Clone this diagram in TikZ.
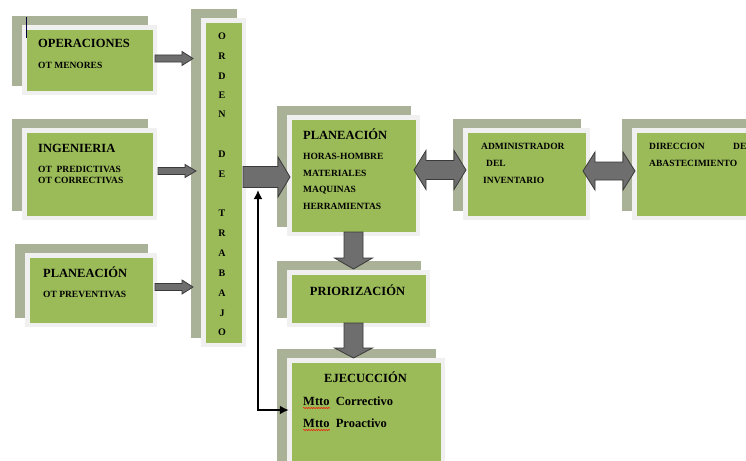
\documentclass[tikz,border=0pt]{standalone}
\usepackage{fontspec}
\setmainfont{Liberation Serif}
\usetikzlibrary{fit,arrows.meta,decorations.pathmorphing}
\definecolor{gr}{HTML}{9BBB59}
\definecolor{sh}{HTML}{A9B296}
\definecolor{fr}{HTML}{F0F0F0}
\definecolor{arf}{HTML}{6E6E6E}
\definecolor{ard}{HTML}{3A3A3A}
\tikzset{
  gbox/.style={fill=gr, draw=none, inner sep=0pt},
  blockarrow/.style={fill=arf, draw=ard, line width=0.8pt, line join=miter},
  hd/.style={font=\bfseries\fontsize{12.5}{14}\selectfont, inner sep=0pt, anchor=base west},
  sm/.style={font=\bfseries\fontsize{9.5}{10}\selectfont, inner sep=0pt, anchor=base west},
  mt/.style={font=\bfseries\fontsize{12.5}{14}\selectfont, inner sep=0pt, anchor=base west},
  let/.style={font=\bfseries\fontsize{10}{11}\selectfont, inner sep=0pt, anchor=center},
  link/.style={line width=2.4pt, draw=black},
  spell/.style={draw=red, line width=0.5pt, decorate, decoration={snake, amplitude=0.6pt, segment length=2.5pt}}
}
% name, green x1, y1, x2, y2
\newcommand\gb[5]{%
  \fill[sh] (#2-15,#3-14) rectangle (#4-5,#5-5);
  \fill[fr] (#2-5,#3-5) rectangle (#4+4,#5+4);
  \node[gbox, fit={(#2,#3) (#4,#5)}] (#1) {};}
% x1 x2 yc shafthalf headhalf headlen
\newcommand\rarr[6]{%
  \filldraw[blockarrow] (#1,#3-#4) -- (#2-#6,#3-#4) -- (#2-#6,#3-#5) -- (#2,#3) -- (#2-#6,#3+#5) -- (#2-#6,#3+#4) -- (#1,#3+#4) -- cycle;}
\newcommand\darr[6]{%
  \filldraw[blockarrow] (#1,#3) -- (#1+#6,#3-#5) -- (#1+#6,#3-#4) -- (#2-#6,#3-#4) -- (#2-#6,#3-#5) -- (#2,#3) -- (#2-#6,#3+#5) -- (#2-#6,#3+#4) -- (#1+#6,#3+#4) -- (#1+#6,#3+#5) -- cycle;}
% y1 y2 xc shafthalf headhalf headlen
\newcommand\dnarr[6]{%
  \filldraw[blockarrow] (#3-#4,#1) -- (#3-#4,#2-#6) -- (#3-#5,#2-#6) -- (#3,#2) -- (#3+#5,#2-#6) -- (#3+#4,#2-#6) -- (#3+#4,#1) -- cycle;}
\begin{document}
\begin{tikzpicture}[x=1pt,y=-1pt]
\useasboundingbox (0,0) rectangle (746,460);
\fill[white] (0,0) rectangle (746,460);

% boxes
\gb{op}{27}{30}{153}{91}
\gb{ing}{27}{133}{153}{216}
\gb{plo}{30}{258}{153}{323}
\gb{orden}{206}{23}{242}{343}
\gb{plan}{292}{120}{416}{232}
\gb{adm}{468}{133}{586}{216}
\gb{dir}{637}{133}{770}{216}
\gb{prio}{292}{275}{426}{323}
\gb{ej}{292}{363}{441}{480}

% text cursor
\draw[line width=1.5pt, black!75!blue] (26.5,17) -- (26.5,38);

% block arrows
\rarr{155}{193}{58.5}{3.5}{7}{11}
\rarr{158}{196}{171}{3.5}{6.5}{11}
\rarr{155}{193}{287}{3.5}{7}{11}
\rarr{243}{290}{177}{10.5}{20}{12}
\darr{414}{466}{170}{9.5}{19.5}{12}
\darr{583}{635}{171}{9}{19}{12}
\dnarr{232}{269}{353.5}{9.5}{19}{11}
\dnarr{323}{358}{353.5}{9.5}{19}{10}

% black connector
\coordinate (up) at (258,190);
\coordinate (bend) at (258,410);
\draw[link, {Latex[length=9pt,width=9pt]}-{Latex[length=9pt,width=9pt]}, shorten >=3pt] (up) -- (bend) -- (ej.west |- bend);

% texts left
\node[hd] (t1) at (38,48) {OPERACIONES};
\node[sm] (t1a) at (38,68) {OT MENORES};
\node[hd] (t2) at (38,152) {INGENIERIA};
\node[sm] (t2a) at (38,172) {OT\ \ PREDICTIVAS};
\node[sm] (t2b) at (38,183) {OT CORRECTIVAS};
\node[hd] (t3) at (43,277) {PLANEACIÓN};
\node[sm] (t3a) at (43,297) {OT PREVENTIVAS};

% ORDEN DE TRABAJO
\foreach \c/\yy [count=\i] in {O/36,R/56,D/76,E/95,N/114,D/154,E/174,T/213,R/233,A/253,B/273,A/293,J/313,O/332}
  \node[let] (o\i) at (222,\yy) {\c};

% middle
\node[hd] (t4) at (303,139) {PLANEACIÓN};
\node[sm] (t4a) at (303,159) {HORAS-HOMBRE};
\node[sm] (t4b) at (303,176) {MATERIALES};
\node[sm] (t4c) at (303,192) {MAQUINAS};
\node[sm] (t4d) at (303,209) {HERRAMIENTAS};

\node[sm] (t5a) at (481,149) {ADMINISTRADOR};
\node[sm] (t5b) at (486,166) {DEL};
\node[sm] (t5c) at (483,183) {INVENTARIO};

\node[sm] (t6a) at (649,149) {DIRECCION};
\node[sm] (t6b) at (733,149) {DE};
\node[sm] (t6c) at (649,166) {ABASTECIMIENTO};

\node[hd, anchor=base] (t7) at (357.5,295) {PRIORIZACIÓN};
\node[hd, anchor=base] (t8) at (365.5,382) {EJECUCCIÓN};
\node[mt] (t8a) at (303,405) {Mtto\ \ Correctivo};
\node[mt] (t8b) at (303,427) {Mtto\ \ Proactivo};
\draw[spell] (303,408) -- (330,408);
\draw[spell] (303,430) -- (330,430);
\end{tikzpicture}
\end{document}
